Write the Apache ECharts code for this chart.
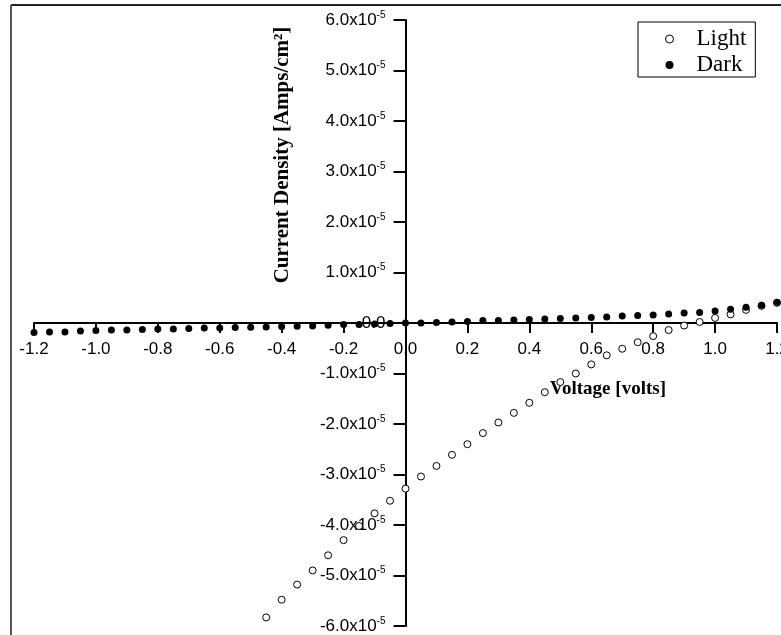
<!DOCTYPE html>
<html>
<head>
<meta charset="utf-8">
<script src="https://cdn.jsdelivr.net/npm/echarts@6/dist/echarts.min.js"></script>
<style>
  html, body { margin: 0; padding: 0; background: #fff; }
  #chart { width: 781px; height: 635px; }
</style>
</head>
<body>
<div id="chart"></div>
<script>
// Illuminated vs. dark J-V sweep (current density in A/cm^2, bias in volts)
const lightVoltage = [
  -0.45, -0.40, -0.35, -0.30, -0.25, -0.20, -0.15, -0.10, -0.05, 0.00,
  0.05, 0.10, 0.15, 0.20, 0.25, 0.30, 0.35, 0.40, 0.45, 0.50,
  0.55, 0.60, 0.65, 0.70, 0.75, 0.80, 0.85, 0.90, 0.95, 1.00,
  1.05, 1.10, 1.15, 1.20
];
const lightCurrent = [
  -5.83e-5, -5.48e-5, -5.18e-5, -4.90e-5, -4.60e-5, -4.30e-5, -4.02e-5, -3.77e-5, -3.52e-5, -3.28e-5,
  -3.04e-5, -2.83e-5, -2.61e-5, -2.40e-5, -2.18e-5, -1.97e-5, -1.78e-5, -1.58e-5, -1.37e-5, -1.17e-5,
  -1.00e-5, -0.82e-5, -0.64e-5, -0.51e-5, -0.38e-5, -0.26e-5, -0.14e-5, -0.05e-5, 0.02e-5, 0.10e-5,
  0.17e-5, 0.26e-5, 0.34e-5, 0.40e-5
];
const darkVoltage = [
  -1.20, -1.15, -1.10, -1.05, -1.00, -0.95, -0.90, -0.85, -0.80, -0.75,
  -0.70, -0.65, -0.60, -0.55, -0.50, -0.45, -0.40, -0.35, -0.30, -0.25,
  -0.20, -0.15, -0.10, -0.05, 0.00, 0.05, 0.10, 0.15, 0.20, 0.25,
  0.30, 0.35, 0.40, 0.45, 0.50, 0.55, 0.60, 0.65, 0.70, 0.75,
  0.80, 0.85, 0.90, 0.95, 1.00, 1.05, 1.10, 1.15, 1.20
];
const darkCurrent = [
  -0.19e-5, -0.18e-5, -0.18e-5, -0.16e-5, -0.15e-5, -0.14e-5, -0.14e-5, -0.13e-5, -0.12e-5, -0.12e-5,
  -0.11e-5, -0.10e-5, -0.10e-5, -0.09e-5, -0.085e-5, -0.08e-5, -0.07e-5, -0.065e-5, -0.06e-5, -0.045e-5,
  -0.03e-5, -0.03e-5, -0.02e-5, -0.01e-5, 0.00, 0.00, 0.01e-5, 0.02e-5, 0.03e-5, 0.05e-5,
  0.05e-5, 0.06e-5, 0.07e-5, 0.08e-5, 0.09e-5, 0.10e-5, 0.11e-5, 0.12e-5, 0.14e-5, 0.15e-5,
  0.16e-5, 0.18e-5, 0.20e-5, 0.21e-5, 0.24e-5, 0.27e-5, 0.31e-5, 0.35e-5, 0.41e-5
];
const seriesNames = ['Light', 'Dark'];
const xTitle = 'Voltage [volts]';
const yTitle = 'Current Density [Amps/cm²]';

const SANS = '"Liberation Sans", Arial, sans-serif';
const SERIF = '"Liberation Serif", "Times New Roman", serif';

const X_MIN = -1.2, X_MAX = 1.2, X_STEP = 0.2;
const Y_MIN = -6e-5, Y_MAX = 6e-5, Y_STEP = 1e-5;

const W = 781, H = 635;
const GRID = { left: 34, right: 4, top: 20, bottom: 9 };

// The two axes cross at the origin: shift each one from the grid edge
// to the pixel where the other axis reads zero.
const plotW = W - GRID.left - GRID.right;
const plotH = H - GRID.top - GRID.bottom;
const zeroXpx = plotW * (0 - X_MIN) / (X_MAX - X_MIN);          // from grid left
const zeroYpx = plotH * (Y_MAX - 0) / (Y_MAX - Y_MIN);          // from grid top
const xAxisOffset = -(plotH - zeroYpx);
const yAxisOffset = -zeroXpx;

const pairs = (xs, ys) => xs.map((x, i) => [x, ys[i]]);

const chart = echarts.init(document.getElementById('chart'), null, { renderer: 'canvas' });

chart.setOption({
  backgroundColor: '#fff',
  animation: false,
  grid: Object.assign({ outerBoundsMode: 'none', containLabel: false }, GRID),
  xAxis: {
    type: 'value',
    min: X_MIN, max: X_MAX, interval: X_STEP,
    offset: xAxisOffset,
    axisLine: { onZero: false, lineStyle: { color: '#000', width: 2 } },
    axisTick: { show: true, length: 10, lineStyle: { color: '#000', width: 2 } },
    splitLine: { show: false },
    axisLabel: {
      margin: 18,
      color: '#000', fontFamily: SANS, fontSize: 17,
      showMinLabel: true, showMaxLabel: true,
      formatter: v => (Math.abs(v) < 1e-9 ? 0 : v).toFixed(1)
    }
  },
  yAxis: {
    type: 'value',
    min: Y_MIN, max: Y_MAX, interval: Y_STEP,
    offset: yAxisOffset,
    axisLine: { onZero: false, lineStyle: { color: '#000', width: 2 } },
    axisTick: { show: true, length: 12, lineStyle: { color: '#000', width: 2 } },
    splitLine: { show: false },
    axisLabel: {
      margin: 20,
      color: '#000', fontFamily: SANS, fontSize: 17,
      showMinLabel: true, showMaxLabel: true,
      formatter: v => {
        const n = v / 1e-5;
        if (Math.abs(n) < 1e-6) return '0.0';
        return '{m|' + n.toFixed(1) + 'x10}{s|-5}';
      },
      rich: {
        m: { fontFamily: SANS, fontSize: 17, color: '#000', lineHeight: 20 },
        s: { fontFamily: SANS, fontSize: 10, color: '#000', lineHeight: 10, verticalAlign: 'top' }
      }
    }
  },
  legend: {
    orient: 'vertical',
    left: 638, top: 22,
    padding: [5, 9, 0, 27],
    itemGap: 2,
    itemWidth: 8, itemHeight: 8,
    borderColor: '#000', borderWidth: 1,
    backgroundColor: '#fff',
    textStyle: { fontFamily: SERIF, fontSize: 23, color: '#000', lineHeight: 24, padding: [0, 0, 0, 18] },
    data: [
      { name: seriesNames[0], icon: 'circle', itemStyle: { color: '#fff', borderColor: '#000', borderWidth: 1 } },
      { name: seriesNames[1], icon: 'circle', itemStyle: { color: '#000', borderWidth: 0 } }
    ]
  },
  series: [
    {
      name: seriesNames[0],
      type: 'scatter',
      symbol: 'circle',
      symbolSize: 7,
      itemStyle: { color: '#fff', borderColor: '#000', borderWidth: 1, opacity: 1 },
      data: pairs(lightVoltage, lightCurrent)
    },
    {
      name: seriesNames[1],
      type: 'scatter',
      symbol: 'circle',
      symbolSize: 7,
      itemStyle: { color: '#000', opacity: 1 },
      data: pairs(darkVoltage, darkCurrent)
    }
  ],
  graphic: [
    { type: 'line', silent: true, shape: { x1: 11, y1: 5, x2: 781, y2: 5 }, style: { stroke: '#222', lineWidth: 2 } },
    { type: 'line', silent: true, shape: { x1: 11, y1: 5, x2: 11, y2: 635 }, style: { stroke: '#555', lineWidth: 2 } },
    {
      type: 'text', x: 608, y: 389, silent: true,
      style: { text: xTitle, font: 'bold 19px ' + SERIF, fill: '#000', textAlign: 'center', textVerticalAlign: 'middle' }
    },
    {
      type: 'text', x: 283, y: 155, rotation: Math.PI / 2, silent: true,
      style: { text: yTitle, font: 'bold 21px ' + SERIF, fill: '#000', textAlign: 'center', textVerticalAlign: 'middle' }
    }
  ]
});
</script>
</body>
</html>
